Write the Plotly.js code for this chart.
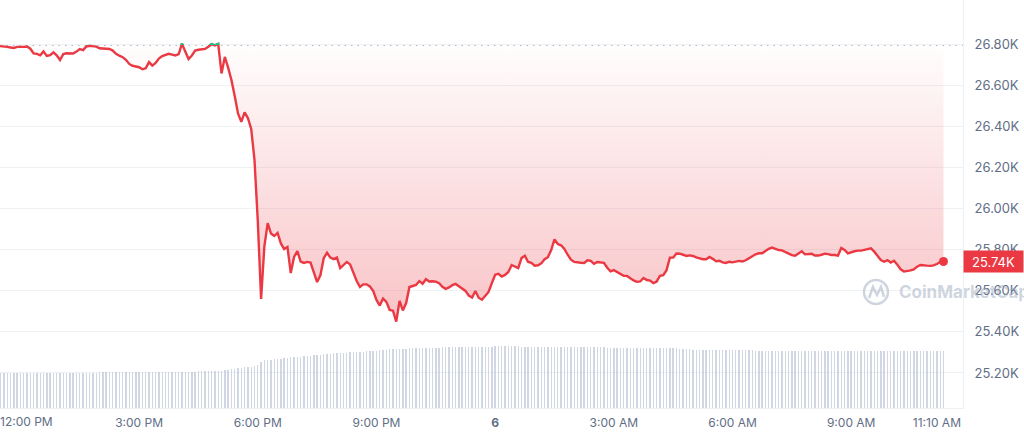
<!DOCTYPE html>
<html>
<head>
<meta charset="utf-8">
<script src="https://cdn.plot.ly/plotly-3.0.1.min.js"></script>
<style>
  html, body { margin: 0; padding: 0; background: #ffffff; }
  #chart { width: 1024px; height: 436px; }
</style>
</head>
<body>
<div id="chart"></div>
<script>
// ---- Data (5-minute samples, starting 2023-06-05 11:20) ----
const startTime = Date.UTC(2023, 5, 5, 11, 20);
const stepMinutes = 5;
const openPrice = 26795;

const prices = [
  26793, 26792, 26791, 26789, 26786, 26783, 26781, 26786, 26785, 26786,
  26788, 26777, 26754, 26752, 26745, 26764, 26742, 26746, 26759, 26745,
  26722, 26751, 26755, 26753, 26754, 26763, 26775, 26770, 26788, 26791,
  26789, 26787, 26779, 26777, 26777, 26776, 26768, 26752, 26743, 26736,
  26723, 26703, 26694, 26692, 26687, 26677, 26682, 26712, 26695, 26708,
  26729, 26741, 26746, 26752, 26748, 26744, 26751, 26802, 26763, 26727,
  26744, 26768, 26772, 26775, 26776, 26787, 26799, 26793, 26800, 26657,
  26737, 26685, 26625, 26547, 26462, 26421, 26467, 26440, 26387, 26236,
  25939, 25560, 25817, 25929, 25878, 25866, 25881, 25830, 25803, 25813,
  25686, 25764, 25793, 25742, 25735, 25740, 25737, 25689, 25642, 25676,
  25758, 25785, 25761, 25754, 25762, 25710, 25723, 25740, 25728, 25686,
  25647, 25618, 25631, 25631, 25621, 25599, 25555, 25528, 25562, 25546,
  25506, 25503, 25450, 25550, 25504, 25540, 25618, 25623, 25628, 25647,
  25634, 25656, 25645, 25646, 25644, 25637, 25619, 25609, 25616, 25627,
  25633, 25622, 25611, 25599, 25576, 25567, 25599, 25566, 25556, 25576,
  25594, 25637, 25678, 25682, 25669, 25677, 25691, 25725, 25719, 25710,
  25759, 25770, 25740, 25736, 25722, 25724, 25733, 25753, 25763, 25798,
  25850, 25827, 25821, 25803, 25775, 25751, 25740, 25737, 25736, 25735,
  25748, 25745, 25731, 25740, 25737, 25736, 25712, 25694, 25700, 25692,
  25682, 25673, 25672, 25659, 25650, 25643, 25645, 25662, 25652, 25649,
  25637, 25645, 25673, 25676, 25700, 25761, 25761, 25781, 25780, 25775,
  25769, 25772, 25769, 25762, 25756, 25753, 25753, 25764, 25755, 25743,
  25746, 25738, 25735, 25741, 25738, 25740, 25745, 25742, 25748, 25758,
  25768, 25777, 25782, 25782, 25793, 25804, 25810, 25803, 25798, 25796,
  25787, 25779, 25773, 25770, 25782, 25792, 25777, 25778, 25780, 25771,
  25771, 25775, 25780, 25778, 25774, 25774, 25771, 25808, 25798, 25782,
  25788, 25792, 25795, 25795, 25799, 25803, 25806, 25790, 25771, 25749,
  25741, 25749, 25737, 25746, 25727, 25704, 25693, 25695, 25699, 25704,
  25717, 25725, 25725, 25722, 25721, 25723, 25730, 25740, 25742
];

// 24h volume (billions USD)
const volumes = [
  5.15, 5.15, 5.15, 5.15, 5.15, 5.15, 5.15, 5.15, 5.15, 5.15, 5.15, 5.15,
  5.17, 5.17, 5.17, 5.17, 5.17, 5.17, 5.17, 5.17, 5.17, 5.17,
  5.20, 5.20, 5.20, 5.20, 5.20, 5.20, 5.20, 5.20, 5.20, 5.20,
  5.25, 5.25, 5.25, 5.25, 5.25, 5.25, 5.25, 5.25, 5.25, 5.25,
  5.30, 5.30, 5.30, 5.30, 5.30, 5.30, 5.30, 5.30, 5.30, 5.30,
  5.36, 5.36, 5.36, 5.36, 5.36, 5.36, 5.36, 5.36, 5.36, 5.36,
  5.42, 5.42, 5.42, 5.42, 5.42, 5.42, 5.42,
  5.50, 5.58, 5.66, 5.74, 5.80, 5.86, 5.92, 5.98, 6.05, 6.10, 6.16,
  6.35, 6.80, 7.00, 7.06, 7.12, 7.17, 7.22, 7.28, 7.33, 7.38,
  7.43, 7.47, 7.52, 7.57, 7.62, 7.66, 7.70, 7.75, 7.80, 7.85,
  7.90, 7.94, 7.98, 8.02, 8.06, 8.09, 8.12, 8.15, 8.18, 8.20,
  8.22, 8.24, 8.28, 8.32, 8.36, 8.40, 8.44, 8.47, 8.52, 8.57,
  8.61, 8.64, 8.67, 8.69,
  8.72, 8.74, 8.76, 8.78, 8.79, 8.80, 8.82, 8.83, 8.84,
  8.86, 8.87, 8.88, 8.90, 8.91, 8.92, 8.93, 8.95, 8.96, 8.97,
  8.98, 8.99, 9.00, 9.01, 9.02, 9.03, 9.03, 9.04, 9.04, 9.05,
  9.05, 9.05, 9.06, 9.06, 9.05, 9.05, 9.05, 9.04, 9.04, 9.04, 9.03, 9.03, 9.02, 9.02, 9.01,
  9.01, 9.00, 9.00, 8.99, 8.98, 8.98, 8.97, 8.96, 8.96, 8.95, 8.94, 8.94, 8.93, 8.92, 8.92,
  8.91, 8.90, 8.90, 8.89, 8.88, 8.88, 8.87, 8.86, 8.86, 8.85, 8.84, 8.84, 8.83, 8.82, 8.82,
  8.81, 8.80, 8.80, 8.79, 8.78, 8.78, 8.77, 8.77, 8.76, 8.76, 8.75, 8.75, 8.74, 8.74,
  8.60, 8.55,
  8.54, 8.53, 8.53, 8.52, 8.52, 8.51, 8.51, 8.50, 8.50, 8.49, 8.49, 8.48, 8.48, 8.47, 8.47, 8.46, 8.46, 8.45, 8.45,
  8.44, 8.44, 8.43, 8.43, 8.42, 8.42, 8.41, 8.41, 8.40, 8.40, 8.40, 8.39, 8.39, 8.39, 8.38, 8.38, 8.38, 8.37, 8.37, 8.37,
  8.37, 8.36, 8.36, 8.36, 8.36, 8.35, 8.35, 8.35, 8.35, 8.35, 8.36, 8.36, 8.36, 8.36, 8.37, 8.37, 8.37, 8.37, 8.38, 8.38,
  8.38, 8.38, 8.38, 8.39, 8.39, 8.39, 8.39, 8.40, 8.40, 8.40, 8.40, 8.41, 8.41, 8.41, 8.41, 8.41
];

const xTickVals = ['2023-06-05 15:00', '2023-06-05 18:00', '2023-06-05 21:00', '2023-06-06 00:00',
                   '2023-06-06 03:00', '2023-06-06 06:00', '2023-06-06 09:00', '2023-06-06 11:10'];
const xTickText = ['3:00 PM', '6:00 PM', '9:00 PM', '<b>6</b>', '3:00 AM', '6:00 AM', '9:00 AM', '11:10 AM'];
const firstTickVal = '2023-06-05 12:00';
const firstTickText = '12:00 PM';

const yTickVals = [25200, 25400, 25600, 25800, 26000, 26200, 26400, 26600, 26800];
const yTickText = ['25.20K', '25.40K', '25.60K', '25.80K', '26.00K', '26.20K', '26.40K', '26.60K', '26.80K'];

// ---- Build ----
function fmt(ms) { return new Date(ms).toISOString().slice(0, 16).replace('T', ' '); }
const times = prices.map((_, i) => fmt(startTime + i * stepMinutes * 60000));
const volTimes = volumes.map((_, i) => fmt(startTime + i * stepMinutes * 60000));
const lastIdx = prices.length - 1;
const lastPrice = prices[lastIdx];

const RED = '#ea3943';
const GREEN = '#16c784';
const LABEL = '#616e85';
const GRID = '#eff2f5';

const traces = [
  { // volume bars
    type: 'bar', x: volTimes, y: volumes, yaxis: 'y2',
    marker: { color: 'rgba(170,182,204,0.55)', line: { width: 0 } },
    width: stepMinutes * 60000 * 0.42, hoverinfo: 'skip'
  },
  { // baseline (open price)
    type: 'scatter', mode: 'lines', x: times, y: prices.map(() => openPrice),
    line: { width: 0, color: 'rgba(0,0,0,0)' }, hoverinfo: 'skip'
  },
  { // price line, filled to baseline
    type: 'scatter', mode: 'lines', x: times, y: prices,
    line: { color: RED, width: 2.4, shape: 'linear' },
    fill: 'tonexty',
    fillgradient: {
      type: 'vertical', start: 25450, stop: openPrice,
      colorscale: [[0, 'rgba(234,57,67,0.30)'], [1, 'rgba(234,57,67,0.01)']]
    },
    hoverinfo: 'skip'
  },
  { // green part above open (clipped by y3 domain)
    type: 'scatter', mode: 'lines', x: times, y: prices, yaxis: 'y3',
    line: { color: GREEN, width: 2.4 }, hoverinfo: 'skip'
  },
  { // last point marker
    type: 'scatter', mode: 'markers', x: [times[lastIdx]], y: [lastPrice],
    marker: { color: RED, size: 9 }, hoverinfo: 'skip', cliponaxis: false
  }
];

const yMin = 25029.6, yMax = 27014;
const y3Start = 1 - (yMax - openPrice) / (yMax - yMin);

const layout = {
  width: 1024, height: 436,
  margin: { l: 0, r: 61, t: 0, b: 28, pad: 0 },
  paper_bgcolor: '#ffffff', plot_bgcolor: 'rgba(0,0,0,0)',
  showlegend: false,
  font: { family: 'Inter, sans-serif', color: LABEL },
  xaxis: {
    type: 'date', range: ['2023-06-05 11:29', '2023-06-06 11:49:36'],
    tickmode: 'array', tickvals: xTickVals, ticktext: xTickText,
    tickfont: { family: 'Inter', size: 12, color: LABEL },
    showgrid: false, zeroline: false, ticks: '', ticklabelstandoff: 4,
    showline: true, linecolor: GRID, linewidth: 1, fixedrange: true
  },
  yaxis: {
    side: 'right', range: [yMin, yMax],
    tickmode: 'array', tickvals: yTickVals, ticktext: yTickText,
    tickfont: { family: 'Inter', size: 13, color: LABEL },
    showgrid: true, gridcolor: GRID, gridwidth: 1, zeroline: false,
    ticks: '', ticklabelstandoff: 8,
    showline: true, linecolor: GRID, linewidth: 1, fixedrange: true
  },
  yaxis2: { overlaying: 'y', range: [0, 60], visible: false, fixedrange: true },
  yaxis3: { domain: [y3Start, 1], range: [openPrice, yMax], visible: false, anchor: 'x', fixedrange: true },
  bargap: 0,
  shapes: [
    { type: 'line', xref: 'paper', x0: 0, x1: 1, yref: 'y', y0: openPrice, y1: openPrice,
      line: { color: '#9aa4b5', width: 1.2, dash: '1.5px,5px' }, layer: 'below' },
    // watermark logo
    { type: 'circle', xref: 'paper', yref: 'paper', x0: 0.8972, x1: 0.9221, y0: 0.2549, y1: 0.3137,
      line: { color: 'rgba(160,172,192,0.5)', width: 2.5 }, layer: 'above' },
    { type: 'path', xref: 'paper', yref: 'paper',
      path: 'M0.9024,0.2696 L0.9065,0.2966 L0.9107,0.2770 L0.9148,0.2966 L0.9180,0.2721',
      line: { color: 'rgba(160,172,192,0.5)', width: 2.5 }, layer: 'above' }
  ],
  annotations: [
    { xref: 'paper', x: 1, xanchor: 'left', yref: 'y', y: lastPrice, yanchor: 'middle',
      text: (lastPrice / 1000).toFixed(2) + 'K', showarrow: false,
      bgcolor: RED, width: 59, height: 21, align: 'center', borderpad: 0,
      font: { family: 'Inter', size: 13, color: '#ffffff' } },
    { xref: 'x', x: firstTickVal, xshift: 6, yref: 'paper', y: 0, yanchor: 'top', yshift: -4,
      text: firstTickText, showarrow: false,
      font: { family: 'Inter', size: 12, color: LABEL } },
    { xref: 'paper', x: 0.9315, xanchor: 'left', yref: 'paper', y: 0.2843, yanchor: 'middle',
      text: 'CoinMarketCap', showarrow: false,
      font: { family: 'Inter', size: 17, weight: 700, color: 'rgba(160,172,192,0.5)' } }
  ]
};

Plotly.newPlot('chart', traces, layout, { displayModeBar: false, staticPlot: true });
</script>
</body>
</html>
